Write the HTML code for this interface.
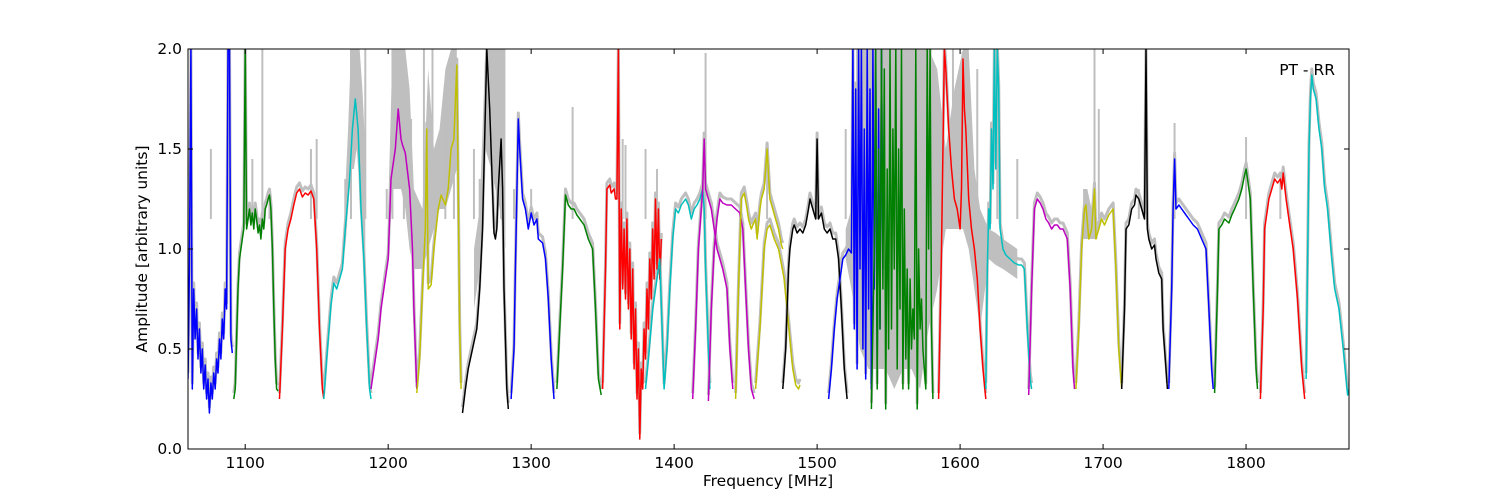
<!DOCTYPE html>
<html><head><meta charset="utf-8"><style>
body{margin:0;background:#fff;}
svg{display:block;font-family:"DejaVu Sans","Liberation Sans",sans-serif;}
</style></head><body>
<svg id="chart" width="1500" height="500" viewBox="0 0 1500 500">
<defs><clipPath id="clip"><rect x="188" y="49" width="1161" height="400"/></clipPath></defs>
<rect x="0" y="0" width="1500" height="500" fill="#fff"/>
<g id="gray" clip-path="url(#clip)"></g>
<g id="series" clip-path="url(#clip)"></g>
<g id="axes"></g>
<text x="1335" y="75" font-size="15.5" text-anchor="end">PT - RR</text>
<text x="768" y="486" font-size="15.5" text-anchor="middle">Frequency [MHz]</text>
<text x="147" y="249" font-size="15.5" text-anchor="middle" transform="rotate(-90 147 249)">Amplitude [arbitrary units]</text>
</svg>
<script>
const xTicks=[1100,1200,1300,1400,1500,1600,1700,1800];
const yTicks=[0.0,0.5,1.0,1.5,2.0];
const segColors=["b","g","r","c","m","y","k","b","g","r","c","m","m","y","y","k","b","g","r","c","m","y","k","b","g","r","c"];
const segFreqs=[
[1060,1061,1062,1063,1064,1065,1066,1067,1068,1069,1070,1071,1072,1073,1074,1075,1076,1077,1078,1079,1080,1081,1082,1083,1084,1085,1086,1087,1088,1089,1090,1091],
[1092,1093,1094,1095,1096,1097,1098,1099,1100,1101,1102,1103,1104,1105,1106,1107,1108,1109,1110,1111,1112,1113,1114,1115,1116,1117,1118,1119,1120,1121,1122,1123],
[1124,1126,1128,1130,1132,1134,1136,1138,1140,1142,1144,1146,1148,1150,1152,1154,1155],
[1155,1157,1160,1162,1164,1166,1168,1170,1173,1175,1177,1179,1180,1181,1183,1185,1187,1188],
[1188,1190,1193,1195,1198,1200,1202,1205,1207,1209,1210,1212,1215,1217,1218,1220],
[1220,1222,1224,1226,1227,1228,1230,1232,1235,1237,1240,1242,1244,1246,1248,1249,1250,1251],
[1252,1254,1256,1259,1262,1264,1266,1268,1269,1271,1273,1274,1275,1276,1277,1279,1280,1281,1283,1284],
[1286,1288,1289,1291,1292,1294,1296,1298,1300,1302,1304,1305,1308,1310,1312,1314,1316],
[1318,1320,1322,1324,1326,1328,1330,1332,1334,1337,1340,1343,1345,1347,1349],
[1350,1352,1353,1355,1356,1358,1359,1360,1361,1362,1363,1364,1365,1366,1367,1368,1369,1370,1371,1372,1373,1374,1375,1376,1377,1378,1379,1380,1381,1382,1383,1384,1385,1386,1387,1388,1389,1390,1391],
[1380,1382,1385,1390,1393,1395,1397,1399,1401,1403,1405,1408,1410,1412,1414,1416,1418,1420,1421,1422,1424,1425],
[1413,1415,1417,1419,1420,1421,1422,1424,1426,1428,1430,1432,1434,1437,1439,1441],
[1424,1426,1428,1430,1432,1434,1437,1440,1443,1446,1448,1450,1452,1454,1456],
[1443,1445,1447,1449,1451,1452,1454,1455,1457,1458,1460,1461,1463,1465,1467,1469,1471,1473,1475,1476],
[1457,1460,1463,1465,1467,1470,1473,1477,1479,1481,1483,1485,1487,1488],
[1476,1478,1480,1481,1483,1484,1486,1488,1490,1492,1494,1495,1497,1499,1500,1501,1503,1505,1507,1509,1511,1513,1515,1517,1519,1521],
[1508,1510,1512,1514,1516,1518,1520,1522,1524,1525,1526,1527,1528,1529,1530,1531,1532,1533,1534,1535,1536,1537,1538,1539,1540,1541,1542,1543,1544,1545,1546],
[1538,1540,1541,1542,1543,1544,1545,1546,1547,1548,1549,1550,1551,1552,1553,1554,1555,1556,1557,1558,1559,1560,1561,1562,1563,1564,1565,1566,1567,1568,1569,1570,1571,1572,1573,1574,1575,1576,1577,1578,1579,1580,1581],
[1585,1587,1589,1590,1592,1594,1596,1598,1600,1601,1602,1603,1604,1606,1608,1610,1612,1614,1616,1618],
[1618,1619,1620,1621,1622,1623,1624,1625,1626,1627,1628,1630,1632,1635,1638,1641,1643,1645,1647,1649,1650],
[1648,1650,1652,1654,1656,1658,1660,1662,1664,1666,1668,1670,1672,1675,1677,1679,1680],
[1681,1683,1685,1687,1688,1690,1692,1694,1695,1697,1699,1701,1704,1707,1709,1711,1713],
[1713,1715,1716,1718,1720,1722,1723,1725,1727,1729,1730,1731,1732,1734,1736,1737,1739,1741,1742,1744,1745],
[1746,1748,1749,1750,1751,1753,1755,1757,1760,1763,1766,1769,1772,1774,1776,1777],
[1778,1780,1781,1783,1785,1788,1790,1792,1795,1797,1799,1800,1801,1803,1805,1807,1808],
[1810,1812,1813,1815,1816,1818,1820,1822,1824,1825,1826,1828,1830,1833,1836,1839,1841],
[1842,1843,1844,1845,1846,1847,1849,1851,1853,1855,1857,1860,1862,1865,1868,1870,1871,1872]
];
const segValues=[
[0.35,0.9,2.0,0.3,0.8,0.55,0.7,0.45,0.6,0.38,0.5,0.3,0.42,0.25,0.35,0.18,0.33,0.25,0.38,0.3,0.45,0.38,0.55,0.45,0.65,0.55,0.8,0.7,2.0,2.0,0.55,0.48],
[0.25,0.3,0.55,0.8,0.95,1.0,1.05,1.1,2.0,1.1,1.15,1.2,1.12,1.18,1.1,1.2,1.15,1.08,1.12,1.05,1.15,1.1,1.2,1.22,1.25,1.27,1.2,1.0,0.7,0.45,0.3,0.29],
[0.25,0.6,1.0,1.1,1.15,1.22,1.28,1.3,1.26,1.28,1.27,1.29,1.25,1.0,0.6,0.3,0.25],
[0.25,0.45,0.72,0.83,0.8,0.85,0.9,1.1,1.35,1.6,1.75,1.6,1.4,1.2,0.95,0.6,0.3,0.25],
[0.3,0.4,0.55,0.7,0.85,0.95,1.35,1.5,1.7,1.55,1.52,1.48,1.3,1.0,0.7,0.3],
[0.28,0.45,0.8,1.1,1.6,0.8,0.82,1.0,1.2,1.27,1.22,1.3,1.5,1.55,1.92,1.3,0.6,0.3],
[0.18,0.3,0.4,0.5,0.6,0.8,1.1,1.7,2.0,1.7,1.3,1.08,1.05,1.1,1.3,1.55,1.3,0.8,0.3,0.2],
[0.25,0.5,0.9,1.65,1.5,1.25,1.2,1.1,1.18,1.12,1.15,1.05,1.03,0.95,0.75,0.45,0.25],
[0.3,0.6,0.9,1.27,1.22,1.2,1.2,1.17,1.15,1.12,1.05,1.0,0.7,0.35,0.27],
[0.3,0.9,1.3,1.32,1.28,1.3,1.25,1.25,2.0,0.6,1.2,0.8,1.1,0.75,1.15,0.7,1.0,0.55,0.9,0.4,0.7,0.25,0.5,0.05,0.4,0.3,0.6,0.45,0.8,0.6,0.95,0.75,1.1,0.85,1.25,0.9,1.2,0.85,1.05],
[0.3,0.45,0.7,0.95,0.3,0.5,0.8,1.05,1.2,1.18,1.22,1.25,1.22,1.15,1.2,1.22,1.25,1.3,1.2,0.9,0.5,0.3],
[0.25,0.6,1.0,1.2,1.3,1.55,1.3,1.25,1.2,1.1,1.0,0.95,0.9,0.8,0.5,0.3],
[0.24,0.7,1.0,1.15,1.25,1.23,1.22,1.22,1.2,1.18,1.1,0.8,0.5,0.3,0.25],
[0.25,0.8,1.25,1.28,1.2,1.15,1.1,1.12,1.15,1.05,1.2,1.25,1.3,1.5,1.25,1.2,1.15,1.1,1.02,1.0],
[0.3,0.6,1.0,1.1,1.12,1.05,1.0,0.85,0.7,0.55,0.4,0.32,0.3,0.32],
[0.3,0.5,0.9,1.0,1.1,1.12,1.08,1.1,1.08,1.12,1.2,1.25,1.2,1.15,1.55,1.15,1.18,1.1,1.08,1.1,1.05,1.05,0.95,0.7,0.4,0.25],
[0.25,0.4,0.6,0.75,0.85,0.95,0.97,1.0,0.98,2.0,0.6,1.8,0.4,2.0,0.9,2.0,0.5,1.6,0.35,2.0,0.7,1.8,0.3,2.0,0.8,2.0,0.4,1.7,0.6,2.0,0.9],
[0.2,1.0,2.0,0.3,1.5,0.6,2.0,0.8,1.9,0.2,1.4,0.5,2.0,0.6,1.6,0.9,2.0,0.4,1.5,0.7,2.0,0.3,1.2,0.45,0.9,0.3,0.85,0.5,0.7,0.55,2.0,0.2,1.0,0.6,0.75,0.5,0.4,0.3,2.0,1.0,2.0,0.6,0.25],
[0.25,1.0,2.0,1.9,1.6,1.4,1.25,1.2,1.1,1.3,1.95,1.7,1.6,1.25,1.1,1.0,0.85,0.6,0.4,0.25],
[0.3,0.9,1.2,1.1,1.6,1.3,2.0,1.4,2.0,1.8,1.1,1.0,0.97,0.95,0.93,0.92,0.92,0.9,0.6,0.35,0.3],
[0.27,0.8,1.2,1.25,1.23,1.2,1.15,1.13,1.1,1.12,1.12,1.1,1.1,1.05,0.8,0.4,0.3],
[0.3,0.6,1.0,1.2,1.22,1.05,1.1,1.3,1.05,1.1,1.15,1.12,1.17,1.2,0.9,0.5,0.3],
[0.3,0.7,1.1,1.12,1.2,1.22,1.27,1.25,1.2,1.15,2.0,1.1,1.05,1.0,1.02,0.95,0.88,0.85,0.6,0.4,0.3],
[0.3,0.8,1.2,1.45,1.2,1.22,1.2,1.18,1.15,1.12,1.1,1.05,1.0,0.7,0.4,0.3],
[0.28,0.8,1.1,1.12,1.15,1.13,1.17,1.2,1.25,1.3,1.37,1.4,1.35,1.25,0.8,0.4,0.3],
[0.25,0.7,1.1,1.2,1.25,1.3,1.35,1.33,1.35,1.3,1.38,1.25,1.15,1.0,0.75,0.4,0.25],
[0.35,0.9,1.5,1.75,1.87,1.8,1.75,1.6,1.5,1.3,1.2,0.95,0.8,0.7,0.5,0.35,0.27,0.3]
];
const graySpikeFreqs=[1076,1105,1112,1117,1146,1150,1170,1174,1184,1199,1203,1211,1216,1225,1231,1240,1246,1260,1264,1276,1279,1288,1300,1329,1364,1366,1380,1388,1422,1465,1500,1520,1528,1534,1548,1553,1562,1568,1595,1612,1626,1640,1694,1697,1725,1750,1800,1824];
const graySpikeTops=[1.5,1.45,2.0,1.28,1.5,1.55,1.35,2.0,2.0,1.3,2.0,2.0,1.65,2.0,2.0,1.8,1.7,1.5,1.35,2.0,2.0,1.3,1.3,1.71,1.55,1.52,1.5,1.4,1.98,1.5,1.55,1.6,2.0,2.0,2.0,1.9,2.0,2.0,2.0,1.9,2.0,1.45,2.0,1.7,1.3,1.63,1.56,1.38];
const grayBandFreqs=[1170,1172,1174,1176,1178,1180,1182,1184,1200,1203,1206,1209,1212,1215,1218,1224,1228,1232,1236,1240,1244,1248,1260,1264,1268,1272,1278,1282,1520,1524,1530,1536,1542,1548,1554,1560,1566,1572,1578,1584,1590,1596,1602,1606,1610,1614,1620,1625,1630,1640,1686,1689,1692,1696];
const grayBandTops=[1.3,1.6,2.0,2.0,2.0,2.0,1.8,1.5,1.2,2.0,2.0,2.0,2.0,1.8,1.3,1.2,1.9,1.5,1.6,1.9,2.0,2.0,1.0,1.2,2.0,2.0,2.0,2.0,1.1,1.2,2.0,2.0,2.0,2.0,2.0,2.0,2.0,2.0,2.0,1.9,1.5,1.8,2.0,2.0,1.4,1.2,1.1,1.08,1.05,1.0,1.3,1.3,1.2,1.15];
const grayBandBottoms=[1.0,1.2,1.4,1.4,1.5,1.3,1.0,0.9,0.9,1.3,1.3,1.3,1.2,1.0,0.9,0.9,1.0,1.1,1.2,1.2,1.3,1.4,0.7,0.9,1.5,1.4,1.2,1.0,0.95,0.8,0.5,0.4,0.4,0.4,0.3,0.4,0.4,0.3,0.6,0.8,1.1,1.1,1.1,1.0,0.8,0.6,0.95,0.92,0.9,0.85,1.05,1.05,1.05,1.05];

const X0=188,X1=1349,Y0=449,Y1=49,FMIN=1060,FMAX=1872,VMIN=0,VMAX=2;
function xs(f){return X0+(f-FMIN)/(FMAX-FMIN)*(X1-X0);}
function ys(v){return Y0-(v-VMIN)/(VMAX-VMIN)*(Y0-Y1);}
const colorMap={b:"#0000ff",g:"#008000",r:"#ff0000",c:"#00bfbf",m:"#bf00bf",y:"#bfbf00",k:"#000000"};
const NS="http://www.w3.org/2000/svg";
const gGray=document.getElementById("gray"),gSer=document.getElementById("series"),gAx=document.getElementById("axes");
function mk(tag,attrs,parent){const e=document.createElementNS(NS,tag);for(const k in attrs)e.setAttribute(k,attrs[k]);parent.appendChild(e);return e;}

{
  let top=[],bot=[];
  for(let i=0;i<grayBandFreqs.length;i++){
    const brk=i>0&&grayBandFreqs[i]-grayBandFreqs[i-1]>10;
    if(brk){
      const p=mk("polygon",{points:top.concat(bot.reverse()).join(" "),fill:"#bfbfbf"},gGray);
      
      
      top=[];bot=[];
    }
    top.push(xs(grayBandFreqs[i]).toFixed(1)+","+ys(grayBandTops[i]).toFixed(1));
    bot.push(xs(grayBandFreqs[i]).toFixed(1)+","+ys(grayBandBottoms[i]).toFixed(1));
  }
  const p=mk("polygon",{points:top.concat(bot.reverse()).join(" "),fill:"#bfbfbf"},gGray);
  
  
}
segFreqs.forEach((fr,i)=>{
  const pts=fr.map((f,j)=>xs(f).toFixed(1)+","+ys(segValues[i][j]+0.03).toFixed(1)).join(" ");
  const pl=mk("polyline",{points:pts,fill:"none",stroke:"#bfbfbf","stroke-width":3,"stroke-linejoin":"round"},gGray);
  
  
});
graySpikeFreqs.forEach((f,i)=>{
  const ln=mk("line",{x1:xs(f),x2:xs(f),y1:ys(graySpikeTops[i]),y2:ys(1.15),stroke:"#bfbfbf","stroke-width":2},gGray);
  
  
});
segFreqs.forEach((fr,i)=>{
  const pts=fr.map((f,j)=>xs(f).toFixed(1)+","+ys(segValues[i][j]).toFixed(1)).join(" ");
  const pl=mk("polyline",{points:pts,fill:"none",stroke:colorMap[segColors[i]],"stroke-width":1.5,"stroke-linejoin":"round"},gSer);
  
  
});
const fr=mk("rect",{x:X0,y:Y1,width:X1-X0,height:Y0-Y1,fill:"none",stroke:"#000","stroke-width":1},gAx);


xTicks.forEach(t=>{
  const x=xs(t);
  const a=mk("line",{x1:x,x2:x,y1:Y0,y2:Y0-5,stroke:"#000"},gAx);
  
  
  const b=mk("line",{x1:x,x2:x,y1:Y1,y2:Y1+5,stroke:"#000"},gAx);
  
  
  const tx=mk("text",{x:x,y:Y0+19,"font-size":15.5,"text-anchor":"middle"},gAx);
  tx.textContent=t;
  
  
});
yTicks.forEach(t=>{
  const y=ys(t);
  const a=mk("line",{x1:X0,x2:X0+5,y1:y,y2:y,stroke:"#000"},gAx);
  
  
  const b=mk("line",{x1:X1,x2:X1-5,y1:y,y2:y,stroke:"#000"},gAx);
  
  
  const tx=mk("text",{x:X0-6,y:y+5,"font-size":15.5,"text-anchor":"end"},gAx);
  tx.textContent=t.toFixed(1);
  
  
});
</script>
</body></html>
